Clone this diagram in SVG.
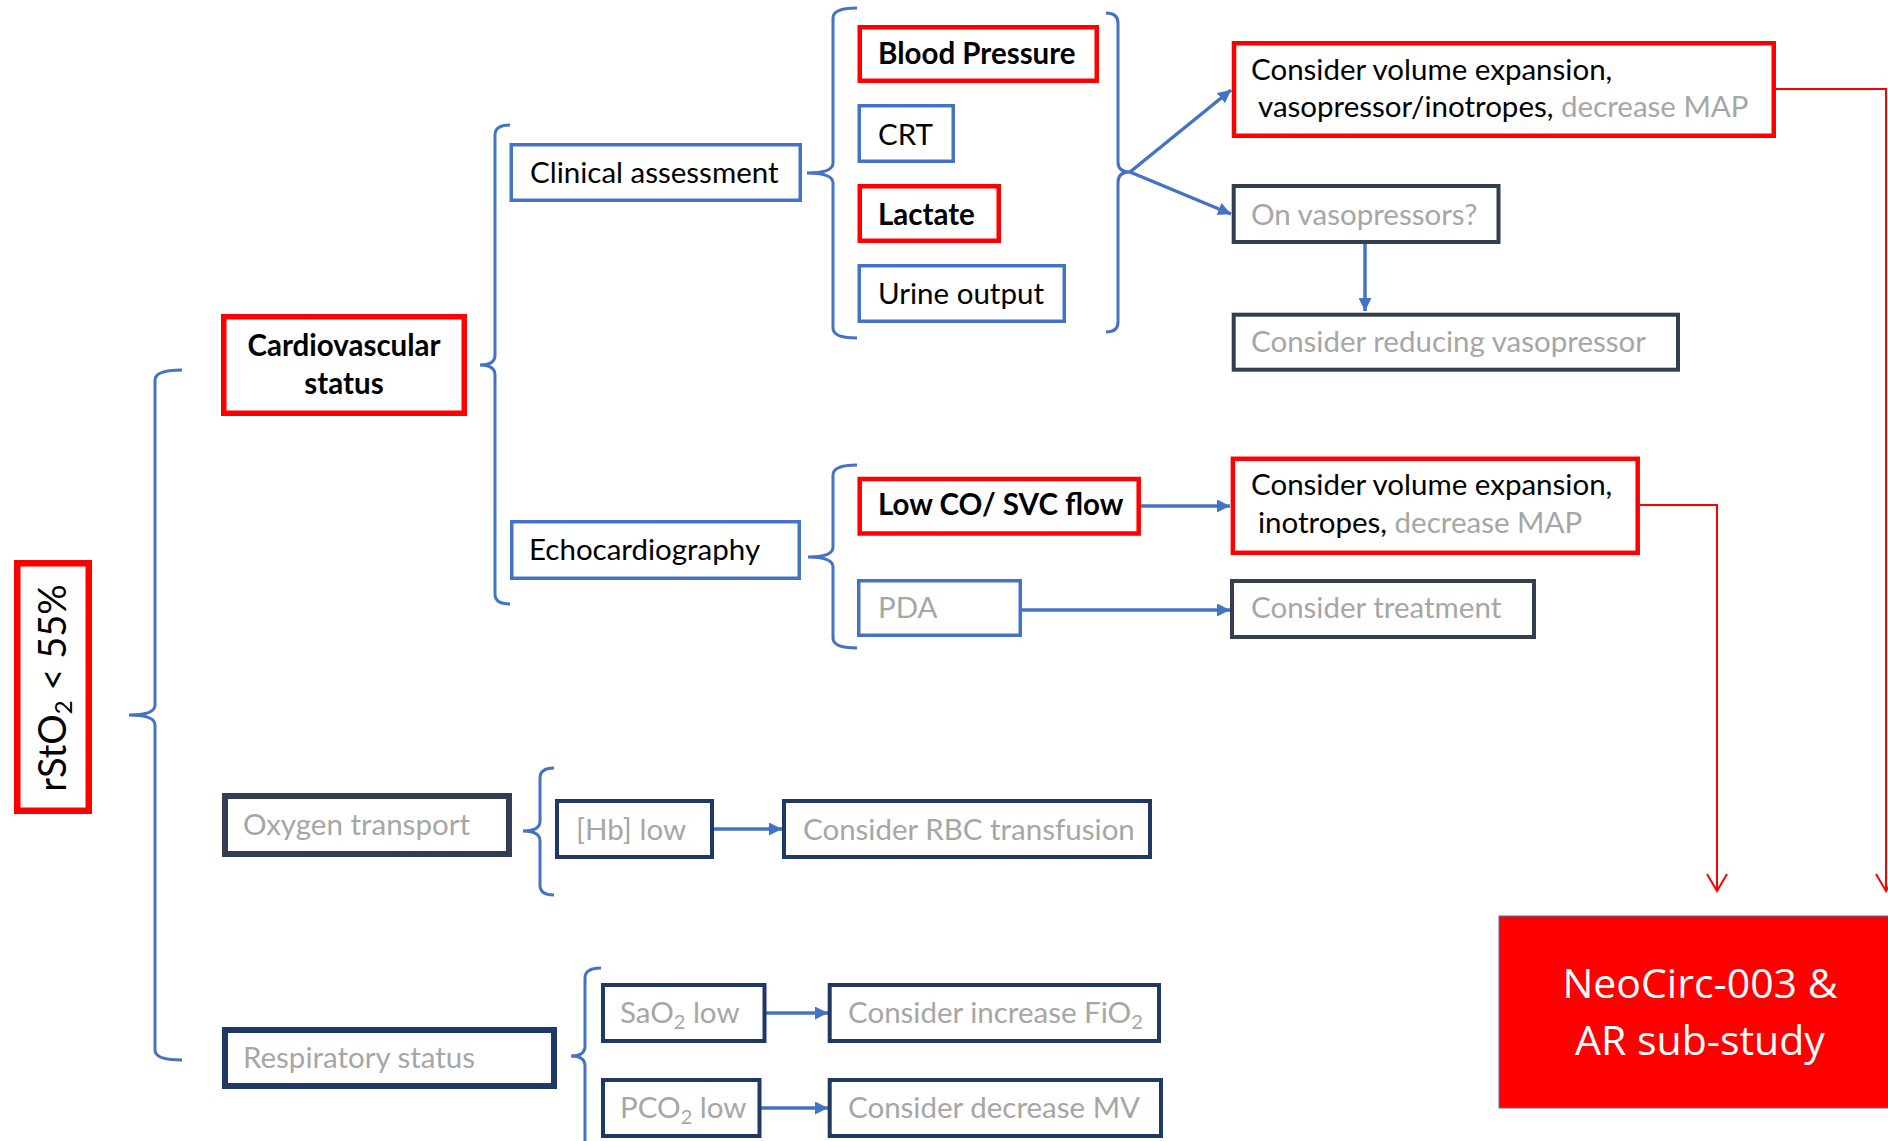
<svg xmlns="http://www.w3.org/2000/svg" width="1888" height="1141" viewBox="0 0 1888 1141">
<style>
.t{font-family:Lato,"Liberation Sans",sans-serif;font-size:29.5px;fill:#000}
.g{fill:#A6A6A6}
.bd{font-weight:700}
.big{font-size:38px}
.neo{font-family:"Open Sans","Liberation Sans",sans-serif;font-size:41px;fill:#fff}
.sub{font-size:20px}
.bx{fill:#fff;stroke:#4472C4;stroke-width:3.5}
.rx{fill:#fff;stroke:#FF0000;stroke-width:4.5}
.dx{fill:#fff;stroke:#333F50;stroke-width:4}
.nx{fill:#fff;stroke:#203864;stroke-width:4}
.brace{fill:none;stroke:#4472C4;stroke-width:3}
.ar{fill:none;stroke:#4472C4;stroke-width:3.5;marker-end:url(#ah)}
.rl{fill:none;stroke:#FF0000;stroke-width:2;marker-end:url(#rh)}
</style>
<defs>
<marker id="ah" markerUnits="userSpaceOnUse" markerWidth="13" markerHeight="13" refX="13" refY="6.5" orient="auto"><path d="M0,0 L13,6.5 L0,13 z" fill="#4472C4"/></marker>
<marker id="rh" markerUnits="userSpaceOnUse" markerWidth="20" markerHeight="24" refX="18" refY="11" orient="auto"><path d="M1,1 L18,11 L1,21" fill="none" stroke="#FF0000" stroke-width="2"/></marker>
</defs>
<g id="connectors">
<path class="brace" d="M182,370 Q155,370 155,380 L155,705 Q155,715 129,715 Q155,715 155,725 L155,1050 Q155,1060 182,1060"/>
<path class="brace" d="M510,125 Q495,125 495,135 L495,355 Q495,365 480,365 Q495,365 495,375 L495,594 Q495,604 510,604"/>
<path class="brace" d="M857,8 Q833,8 833,18 L833,163 Q833,173 807,173 Q833,173 833,183 L833,328 Q833,338 857,338"/>
<path class="brace" d="M1106,13 Q1118,13 1118,23 L1118,162 Q1118,172 1130,172 Q1118,172 1118,182 L1118,322 Q1118,332 1106,332"/>
<path class="brace" d="M857,465 Q833,465 833,475 L833,547 Q833,557 808,557 Q833,557 833,567 L833,638 Q833,648 857,648"/>
<path class="brace" d="M554,768 Q540,768 540,778 L540,821 Q540,831 523,831 Q540,831 540,841 L540,885 Q540,895 554,895"/>
<path class="brace" d="M601,968 Q585,968 585,978 L585,1046 Q585,1056 571,1056 Q585,1056 585,1066 L585,1160"/>
<line class="ar" x1="1130" y1="172" x2="1231" y2="90"/>
<line class="ar" x1="1130" y1="172" x2="1231" y2="214"/>
<line class="ar" x1="1365" y1="244" x2="1365" y2="311"/>
<line class="ar" x1="1141" y1="506" x2="1230" y2="506"/>
<line class="ar" x1="1022" y1="610" x2="1230" y2="610"/>
<line class="ar" x1="714" y1="829" x2="782" y2="829"/>
<line class="ar" x1="766" y1="1013" x2="828" y2="1013"/>
<line class="ar" x1="761" y1="1108" x2="828" y2="1108"/>
<path class="rl" d="M1776,89 H1886 V891"/>
<path class="rl" d="M1640,505 H1717 V891"/>
</g>
<g id="rsto2">
<rect x="17.25" y="563.25" width="71.5" height="247.5" fill="#fff" stroke="#FF0000" stroke-width="6.5"/>
<text class="t big" text-anchor="middle" transform="translate(66,688) rotate(-90)">rStO<tspan style="font-size:24px" dy="6">2</tspan><tspan dy="-6"> &lt; 55%</tspan></text>
</g>
<g id="cardio">
<rect x="223.75" y="316.75" width="240.5" height="96.5" fill="#fff" stroke="#FF0000" stroke-width="5.5"/>
<text class="t bd" text-anchor="middle" x="344" y="356">Cardiovascular</text>
<text class="t bd" text-anchor="middle" x="344" y="394">status</text>
</g>
<g id="clinical"><rect class="bx" x="511.25" y="144.75" width="289" height="55.5"/><text class="t" x="530" y="183">Clinical assessment</text></g>
<g id="bp"><rect class="rx" x="859.75" y="27.25" width="237" height="53.5"/><text class="t bd" x="878" y="64">Blood Pressure</text></g>
<g id="crt"><rect class="bx" x="859.25" y="105.75" width="94" height="55.5"/><text class="t" x="878" y="145">CRT</text></g>
<g id="lactate"><rect class="rx" x="859.75" y="186.25" width="139" height="54.5"/><text class="t bd" x="878" y="225">Lactate</text></g>
<g id="urine"><rect class="bx" x="859.25" y="265.75" width="205" height="55.5"/><text class="t" x="878" y="304">Urine output</text></g>
<g id="consider1"><rect class="rx" x="1234" y="43.25" width="539.75" height="92.5"/>
<text class="t" x="1251" y="80">Consider volume expansion,</text>
<text class="t" x="1258" y="117">vasopressor/inotropes, <tspan class="g">decrease MAP</tspan></text></g>
<g id="onvaso"><rect class="dx" x="1233.7" y="186" width="264.8" height="56"/><text class="t g" x="1251" y="225">On vasopressors?</text></g>
<g id="reducing"><rect class="dx" x="1233.7" y="314.7" width="444.3" height="55"/><text class="t g" x="1251" y="352">Consider reducing vasopressor</text></g>
<g id="echo"><rect class="bx" x="511.75" y="521.75" width="287.5" height="56.5"/><text class="t" x="529" y="560">Echocardiography</text></g>
<g id="lowco"><rect class="rx" x="859.7" y="479" width="279" height="54.5"/><text class="t bd" x="878" y="515">Low CO/ SVC flow</text></g>
<g id="consider2"><rect class="rx" x="1232.9" y="458.8" width="404.8" height="94"/>
<text class="t" x="1251" y="495">Consider volume expansion,</text>
<text class="t" x="1258" y="533">inotropes, <tspan class="g">decrease MAP</tspan></text></g>
<g id="pda"><rect class="bx" x="858.75" y="580.75" width="161.5" height="54.5"/><text class="t g" x="878" y="618">PDA</text></g>
<g id="treatment"><rect class="dx" x="1232" y="581" width="302" height="56"/><text class="t g" x="1251" y="618">Consider treatment</text></g>
<g id="oxygen"><rect x="225" y="796" width="284" height="58" fill="#fff" stroke="#333F50" stroke-width="6"/><text class="t g" x="243" y="835">Oxygen transport</text></g>
<g id="hb"><rect class="nx" x="557" y="801" width="155" height="56"/><text class="t g" x="576" y="840">[Hb] low</text></g>
<g id="rbc"><rect class="nx" x="784" y="801" width="366" height="56"/><text class="t g" x="803" y="840">Consider RBC transfusion</text></g>
<g id="resp"><rect x="225" y="1030" width="329" height="56" fill="#fff" stroke="#203864" stroke-width="6"/><text class="t g" x="243" y="1068">Respiratory status</text></g>
<g id="sao2"><rect class="nx" x="603" y="985" width="161.5" height="56"/><text class="t g" x="620" y="1023">SaO<tspan class="sub" dy="6">2</tspan><tspan dy="-6"> low</tspan></text></g>
<g id="fio2"><rect class="nx" x="829.7" y="985" width="329.3" height="56"/><text class="t g" x="848" y="1023">Consider increase FiO<tspan class="sub" dy="6">2</tspan></text></g>
<g id="pco2"><rect class="nx" x="603" y="1080" width="156.5" height="56"/><text class="t g" x="620" y="1118">PCO<tspan class="sub" dy="6">2</tspan><tspan dy="-6"> low</tspan></text></g>
<g id="mv"><rect class="nx" x="829.7" y="1080" width="331.3" height="56"/><text class="t g" x="848" y="1118">Consider decrease MV</text></g>
<g id="neocirc"><rect x="1499" y="916" width="400" height="192" fill="#FF0000" stroke="#4472C4" stroke-width="1"/>
<text class="neo" text-anchor="middle" x="1700" y="998">NeoCirc-003 &amp;</text>
<text class="neo" text-anchor="middle" x="1700" y="1055">AR sub-study</text></g>
</svg>
